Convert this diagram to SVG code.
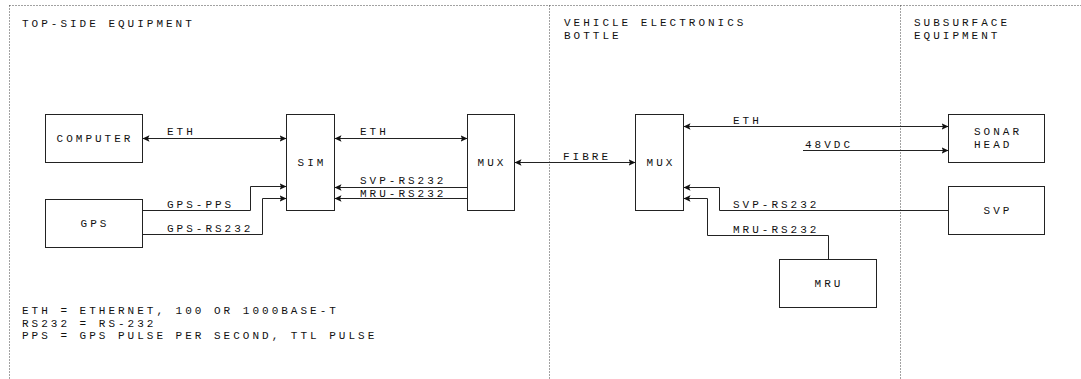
<svg xmlns="http://www.w3.org/2000/svg" width="1081" height="379" viewBox="0 0 1081 379">
<style>
text{font-family:"Liberation Mono","DejaVu Sans Mono",monospace;font-size:11px;letter-spacing:3px;fill:#111}
.box{fill:#fff;stroke:#222;stroke-width:1}
.c{text-anchor:middle}
.ln{fill:none;stroke:#222;stroke-width:1}
.dot{fill:none;stroke:#444;stroke-width:1;stroke-dasharray:1,2}
</style>
<defs>
<marker id="ae" markerUnits="userSpaceOnUse" markerWidth="8" markerHeight="8" refX="7" refY="4" orient="auto">
<path d="M0,0.8 L7,4 L0,7.2 L1.5,4 z" fill="#111"/>
</marker>
<marker id="as" markerUnits="userSpaceOnUse" markerWidth="8" markerHeight="8" refX="1" refY="4" orient="auto">
<path d="M8,0.8 L1,4 L8,7.2 L6.5,4 z" fill="#111"/>
</marker>
</defs>
<g id="regions">
<path class="dot" d="M9.5,5.5 H1081 M9.5,5.5 V379 M549.5,5.5 V379 M900.5,5.5 V379"/>
<text x="22" y="27">TOP-SIDE EQUIPMENT</text>
<text x="564" y="26">VEHICLE ELECTRONICS</text>
<text x="564" y="39">BOTTLE</text>
<text x="914" y="26">SUBSURFACE</text>
<text x="914" y="39">EQUIPMENT</text>
</g>
<g id="legend">
<text x="22" y="314">ETH = ETHERNET, 100 OR 1000BASE-T</text>
<text x="22" y="326.5">RS232 = RS-232</text>
<text x="22" y="339">PPS = GPS PULSE PER SECOND, TTL PULSE</text>
</g>
<g id="connectors">
<path class="ln" d="M142.5,138.5 H286.5" marker-start="url(#as)" marker-end="url(#ae)"/>
<text x="167" y="135">ETH</text>
<path class="ln" d="M334.5,138.5 H467.5" marker-start="url(#as)" marker-end="url(#ae)"/>
<text x="360" y="135">ETH</text>
<path class="ln" d="M467.5,187.5 H334.5" marker-end="url(#ae)"/>
<text x="360" y="184">SVP-RS232</text>
<path class="ln" d="M467.5,198.5 H334.5" marker-end="url(#ae)"/>
<text x="360" y="197">MRU-RS232</text>
<path class="ln" d="M142.5,210.5 H250.5 V186.5 H286.5" marker-end="url(#ae)"/>
<text x="167" y="208">GPS-PPS</text>
<path class="ln" d="M142.5,234.5 H262.5 V198.5 H286.5" marker-end="url(#ae)"/>
<text x="167" y="232">GPS-RS232</text>
<path class="ln" d="M514.5,162.5 H635.5" marker-start="url(#as)" marker-end="url(#ae)"/>
<text x="563" y="160">FIBRE</text>
<path class="ln" d="M683.5,126.5 H948.5" marker-start="url(#as)" marker-end="url(#ae)"/>
<text x="733" y="124">ETH</text>
<path class="ln" d="M803,150.5 H948.5" marker-end="url(#ae)"/>
<text x="805" y="148">48VDC</text>
<path class="ln" d="M948.5,210.5 H719.5 V187.5 H683.5" marker-end="url(#ae)"/>
<text x="733" y="208">SVP-RS232</text>
<path class="ln" d="M828.5,259.5 V235.5 H707.5 V198.5 H683.5" marker-end="url(#ae)"/>
<text x="733" y="233">MRU-RS232</text>
</g>
<g id="computer"><rect class="box" x="45.5" y="114.5" width="97" height="48"/><text class="c" x="95" y="142">COMPUTER</text></g>
<g id="gps"><rect class="box" x="45.5" y="199.5" width="97" height="48"/><text class="c" x="95" y="227">GPS</text></g>
<g id="sim"><rect class="box" x="286.5" y="114.5" width="48" height="96"/><text class="c" x="312" y="166">SIM</text></g>
<g id="mux-top"><rect class="box" x="467.5" y="114.5" width="47" height="96"/><text class="c" x="492" y="166">MUX</text></g>
<g id="mux-vehicle"><rect class="box" x="635.5" y="114.5" width="48" height="96"/><text class="c" x="661" y="166">MUX</text></g>
<g id="sonar-head"><rect class="box" x="948.5" y="114.5" width="96" height="48"/><text x="974" y="135">SONAR</text><text x="974" y="148">HEAD</text></g>
<g id="svp"><rect class="box" x="948.5" y="186.5" width="96" height="48"/><text class="c" x="998" y="214">SVP</text></g>
<g id="mru"><rect class="box" x="779.5" y="259.5" width="97" height="48"/><text class="c" x="829" y="287">MRU</text></g>
</svg>
